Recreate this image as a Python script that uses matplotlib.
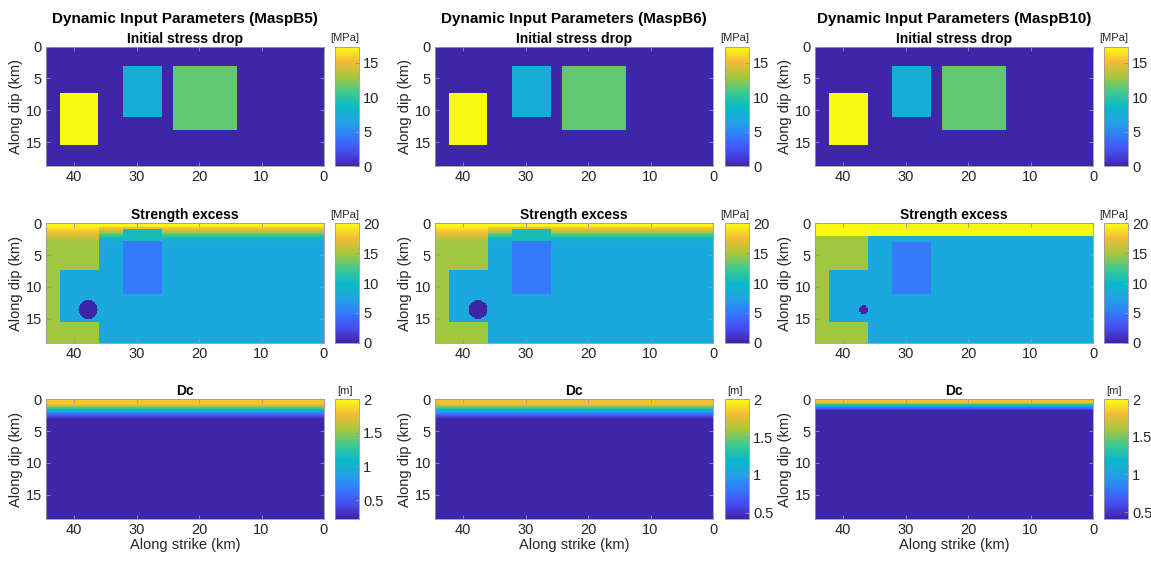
import numpy as np
import matplotlib
matplotlib.use("Agg")
import matplotlib.pyplot as plt
from matplotlib.colors import LinearSegmentedColormap

plt.rcParams['font.family'] = ['Liberation Sans', 'DejaVu Sans']

# ---------------- parula-like colormap ----------------
parula_pos = [0.0, 0.125, 0.25, 0.375, 0.5, 0.625, 0.75, 0.875, 1.0]
parula_rgb = [(0.2422, 0.1504, 0.6603), (0.2813, 0.2985, 0.9397), (0.2006, 0.4803, 0.9906),
              (0.1253, 0.6453, 0.8887), (0.0400, 0.7275, 0.7752), (0.2600, 0.7887, 0.5500),
              (0.6600, 0.7800, 0.2300), (0.9600, 0.7300, 0.2200), (0.9769, 0.9839, 0.0805)]
parula = LinearSegmentedColormap.from_list('parula', list(zip(parula_pos, parula_rgb)), N=256)

# ---------------- data ----------------
models = ['MaspB5', 'MaspB6', 'MaspB10']
fault_length = 44.5   # km along strike
fault_width = 18.8    # km along dip

# stress drop asperities: (x_min, x_max, y_min, y_max, value MPa)
stress_drop_rects = {
    'MaspB5':  [(36.2, 42.3, 7.3, 15.5, 17.3), (26.0, 32.2, 3.1, 11.2, 7.5), (13.9, 24.1, 3.1, 13.2, 11.5)],
    'MaspB6':  [(36.2, 42.3, 7.3, 15.5, 17.3), (26.0, 32.2, 3.1, 11.2, 7.5), (13.9, 24.1, 3.1, 13.2, 11.5)],
    'MaspB10': [(36.0, 42.3, 7.3, 15.5, 17.3), (26.0, 32.1, 3.1, 11.2, 7.5), (13.9, 24.1, 3.1, 13.2, 11.5)],
}
stress_drop_background = 0.0

# strength excess
se_background = 8.0
se_surface_value = 20.0
se_rects = {   # (x_min, x_max, y_min, y_max, value)
    'MaspB5':  [(36.0, 44.5, 0.0, 18.8, 14.8), (36.0, 42.3, 7.3, 15.5, 8.0), (26.0, 32.2, 0.0, 11.2, 5.0)],
    'MaspB6':  [(36.0, 44.5, 0.0, 18.8, 14.8), (36.0, 42.3, 7.3, 15.5, 8.0), (26.0, 32.2, 0.0, 11.2, 5.0)],
    'MaspB10': [(36.0, 44.5, 0.0, 18.8, 14.8), (36.0, 42.3, 7.3, 15.5, 8.0), (26.0, 32.1, 3.0, 11.2, 5.0)],
}
# shallow part of the asperity column (below the surface layer): (x_min, x_max, y_min, y_max, value)
se_cap = {'MaspB5': [(26.0, 32.2, 0.9, 2.8, 10.5)], 'MaspB6': [(26.0, 32.2, 0.9, 2.8, 10.5)], 'MaspB10': []}
# nucleation patch: (x_center, y_center, radius, value)
nucleation = {'MaspB5': (37.75, 13.55, 1.5, 0.0), 'MaspB6': (37.6, 13.55, 1.5, 0.0), 'MaspB10': (36.7, 13.6, 0.7, 0.0)}
# shallow taper weight of surface value, read at depths (km)
se_taper_depth = {'MaspB5': [0.0, 0.4, 1.0, 1.6, 2.2, 2.9], 'MaspB6': [0.0, 0.4, 1.0, 1.6, 2.2, 2.9],
                  'MaspB10': [0.0, 1.95, 2.0]}
se_taper_weight = {'MaspB5': [1.0, 1.0, 0.75, 0.5, 0.25, 0.0], 'MaspB6': [1.0, 1.0, 0.75, 0.5, 0.25, 0.0],
                   'MaspB10': [1.0, 1.0, 0.0]}

# Dc depth profile (km, m)
dc_depth = {'MaspB5': [0.0, 0.1, 0.8, 1.5, 2.2, 3.1], 'MaspB6': [0.0, 0.1, 0.8, 1.5, 2.2, 3.1],
            'MaspB10': [0.0, 0.1, 0.55, 0.9, 1.3, 1.8]}
dc_value = {'MaspB5': [2.0, 1.82, 1.82, 1.25, 0.7, 0.22], 'MaspB6': [2.0, 1.82, 1.82, 1.3, 0.85, 0.42],
            'MaspB10': [2.0, 1.82, 1.82, 1.3, 0.85, 0.41]}

# colour limits per row
sd_clim = {'MaspB5': (0, 17.3), 'MaspB6': (0, 17.3), 'MaspB10': (0, 17.3)}
se_clim = {'MaspB5': (0, 20), 'MaspB6': (0, 20), 'MaspB10': (0, 20)}
dc_clim = {'MaspB5': (0.22, 2.0), 'MaspB6': (0.42, 2.0), 'MaspB10': (0.41, 2.0)}

sd_ticks = [0, 5, 10, 15]
se_ticks = [0, 5, 10, 15, 20]
dc_ticks = [0.5, 1, 1.5, 2]
x_ticks = [40, 30, 20, 10, 0]
y_ticks = [0, 5, 10, 15]

# ---------------- grid ----------------
dx = 0.1
xc = np.arange(0, fault_length, dx) + dx / 2
yc = np.arange(0, fault_width, dx) + dx / 2
X, Y = np.meshgrid(xc, yc)

def rect_field(F, rects):
    for x0, x1, y0, y1, v in rects:
        F[(X >= x0) & (X <= x1) & (Y >= y0) & (Y <= y1)] = v
    return F

fields = {}
for m in models:
    sd = rect_field(np.full(X.shape, stress_drop_background), stress_drop_rects[m])
    xn, yn, rn, vn = nucleation[m]
    circ = (X - xn) ** 2 + (Y - yn) ** 2 <= rn ** 2
    sd[circ] = stress_drop_rects[m][0][4]
    se = rect_field(np.full(X.shape, se_background), se_rects[m])
    w = np.interp(Y, se_taper_depth[m], se_taper_weight[m])
    se = se + w * (se_surface_value - se)
    se = rect_field(se, se_cap[m])
    se[circ] = vn
    dc = np.interp(Y, dc_depth[m], dc_value[m])
    fields[m] = (sd, se, dc)

# ---------------- figure ----------------
W, H = 1151, 561
fig = plt.figure(figsize=(W / 100, H / 100), dpi=100)

col_left = [46, 435, 815]
ax_w = 278
cb_left = [335, 725, 1104]
cb_w = 24
row_top = [46.7, 223.3, 399.3]
ax_h = 119.5

def fr(x, y, w, h):
    return [x / W, 1 - (y + h) / H, w / W, h / H]

row_titles = ['Initial stress drop', 'Strength excess', 'Dc']
units = ['[MPa]', '[MPa]', '[m]']
tick_sets = [sd_ticks, se_ticks, dc_ticks]
clims = [sd_clim, se_clim, dc_clim]
txt_col = '#262626'
edge_col = '#999999'

for ci, m in enumerate(models):
    for ri in range(3):
        ax = fig.add_axes(fr(col_left[ci], row_top[ri], ax_w, ax_h))
        data = fields[m][ri]
        vmin, vmax = clims[ri][m]
        im = ax.imshow(data, cmap=parula, extent=[0, fault_length, fault_width, 0],
                       interpolation='nearest', aspect='auto', vmin=vmin, vmax=vmax)
        ax.set_xlim(fault_length, 0)
        ax.set_ylim(fault_width, 0)
        ax.set_xticks(x_ticks)
        ax.set_yticks(y_ticks)
        ax.tick_params(direction='in', length=3, width=0.6, colors=edge_col, labelcolor=txt_col,
                       labelsize=10.5, top=True, right=True, pad=3)
        for s in ax.spines.values():
            s.set_color(edge_col)
            s.set_linewidth(0.6)
        ax.set_ylabel('Along dip (km)', fontsize=10.5, color=txt_col, labelpad=2)
        if ri == 2:
            ax.set_xlabel('Along strike (km)', fontsize=10.5, color=txt_col, labelpad=1)
        ax.set_title(row_titles[ri], fontsize=10, fontweight='bold', color='black', pad=3)
        if ri == 0:
            ax.text(0.5, 1.17, f'Dynamic Input Parameters ({m})', transform=ax.transAxes,
                    ha='center', va='bottom', fontsize=11, fontweight='bold', color='black')
        cax = fig.add_axes(fr(cb_left[ci], row_top[ri], cb_w, ax_h))
        cb = fig.colorbar(im, cax=cax, ticks=tick_sets[ri])
        cb.outline.set_edgecolor(edge_col)
        cb.outline.set_linewidth(0.6)
        cax.tick_params(direction='in', length=3, width=0.6, colors=edge_col, labelcolor=txt_col,
                        labelsize=10.5, pad=3)
        cax.set_yticklabels([f'{t:g}' for t in tick_sets[ri]])
        cax.text(0.4, 1.03, units[ri], transform=cax.transAxes, ha='center', va='bottom',
                 fontsize=8, color=txt_col)

fig.savefig('out.png', dpi=100, facecolor='white')
